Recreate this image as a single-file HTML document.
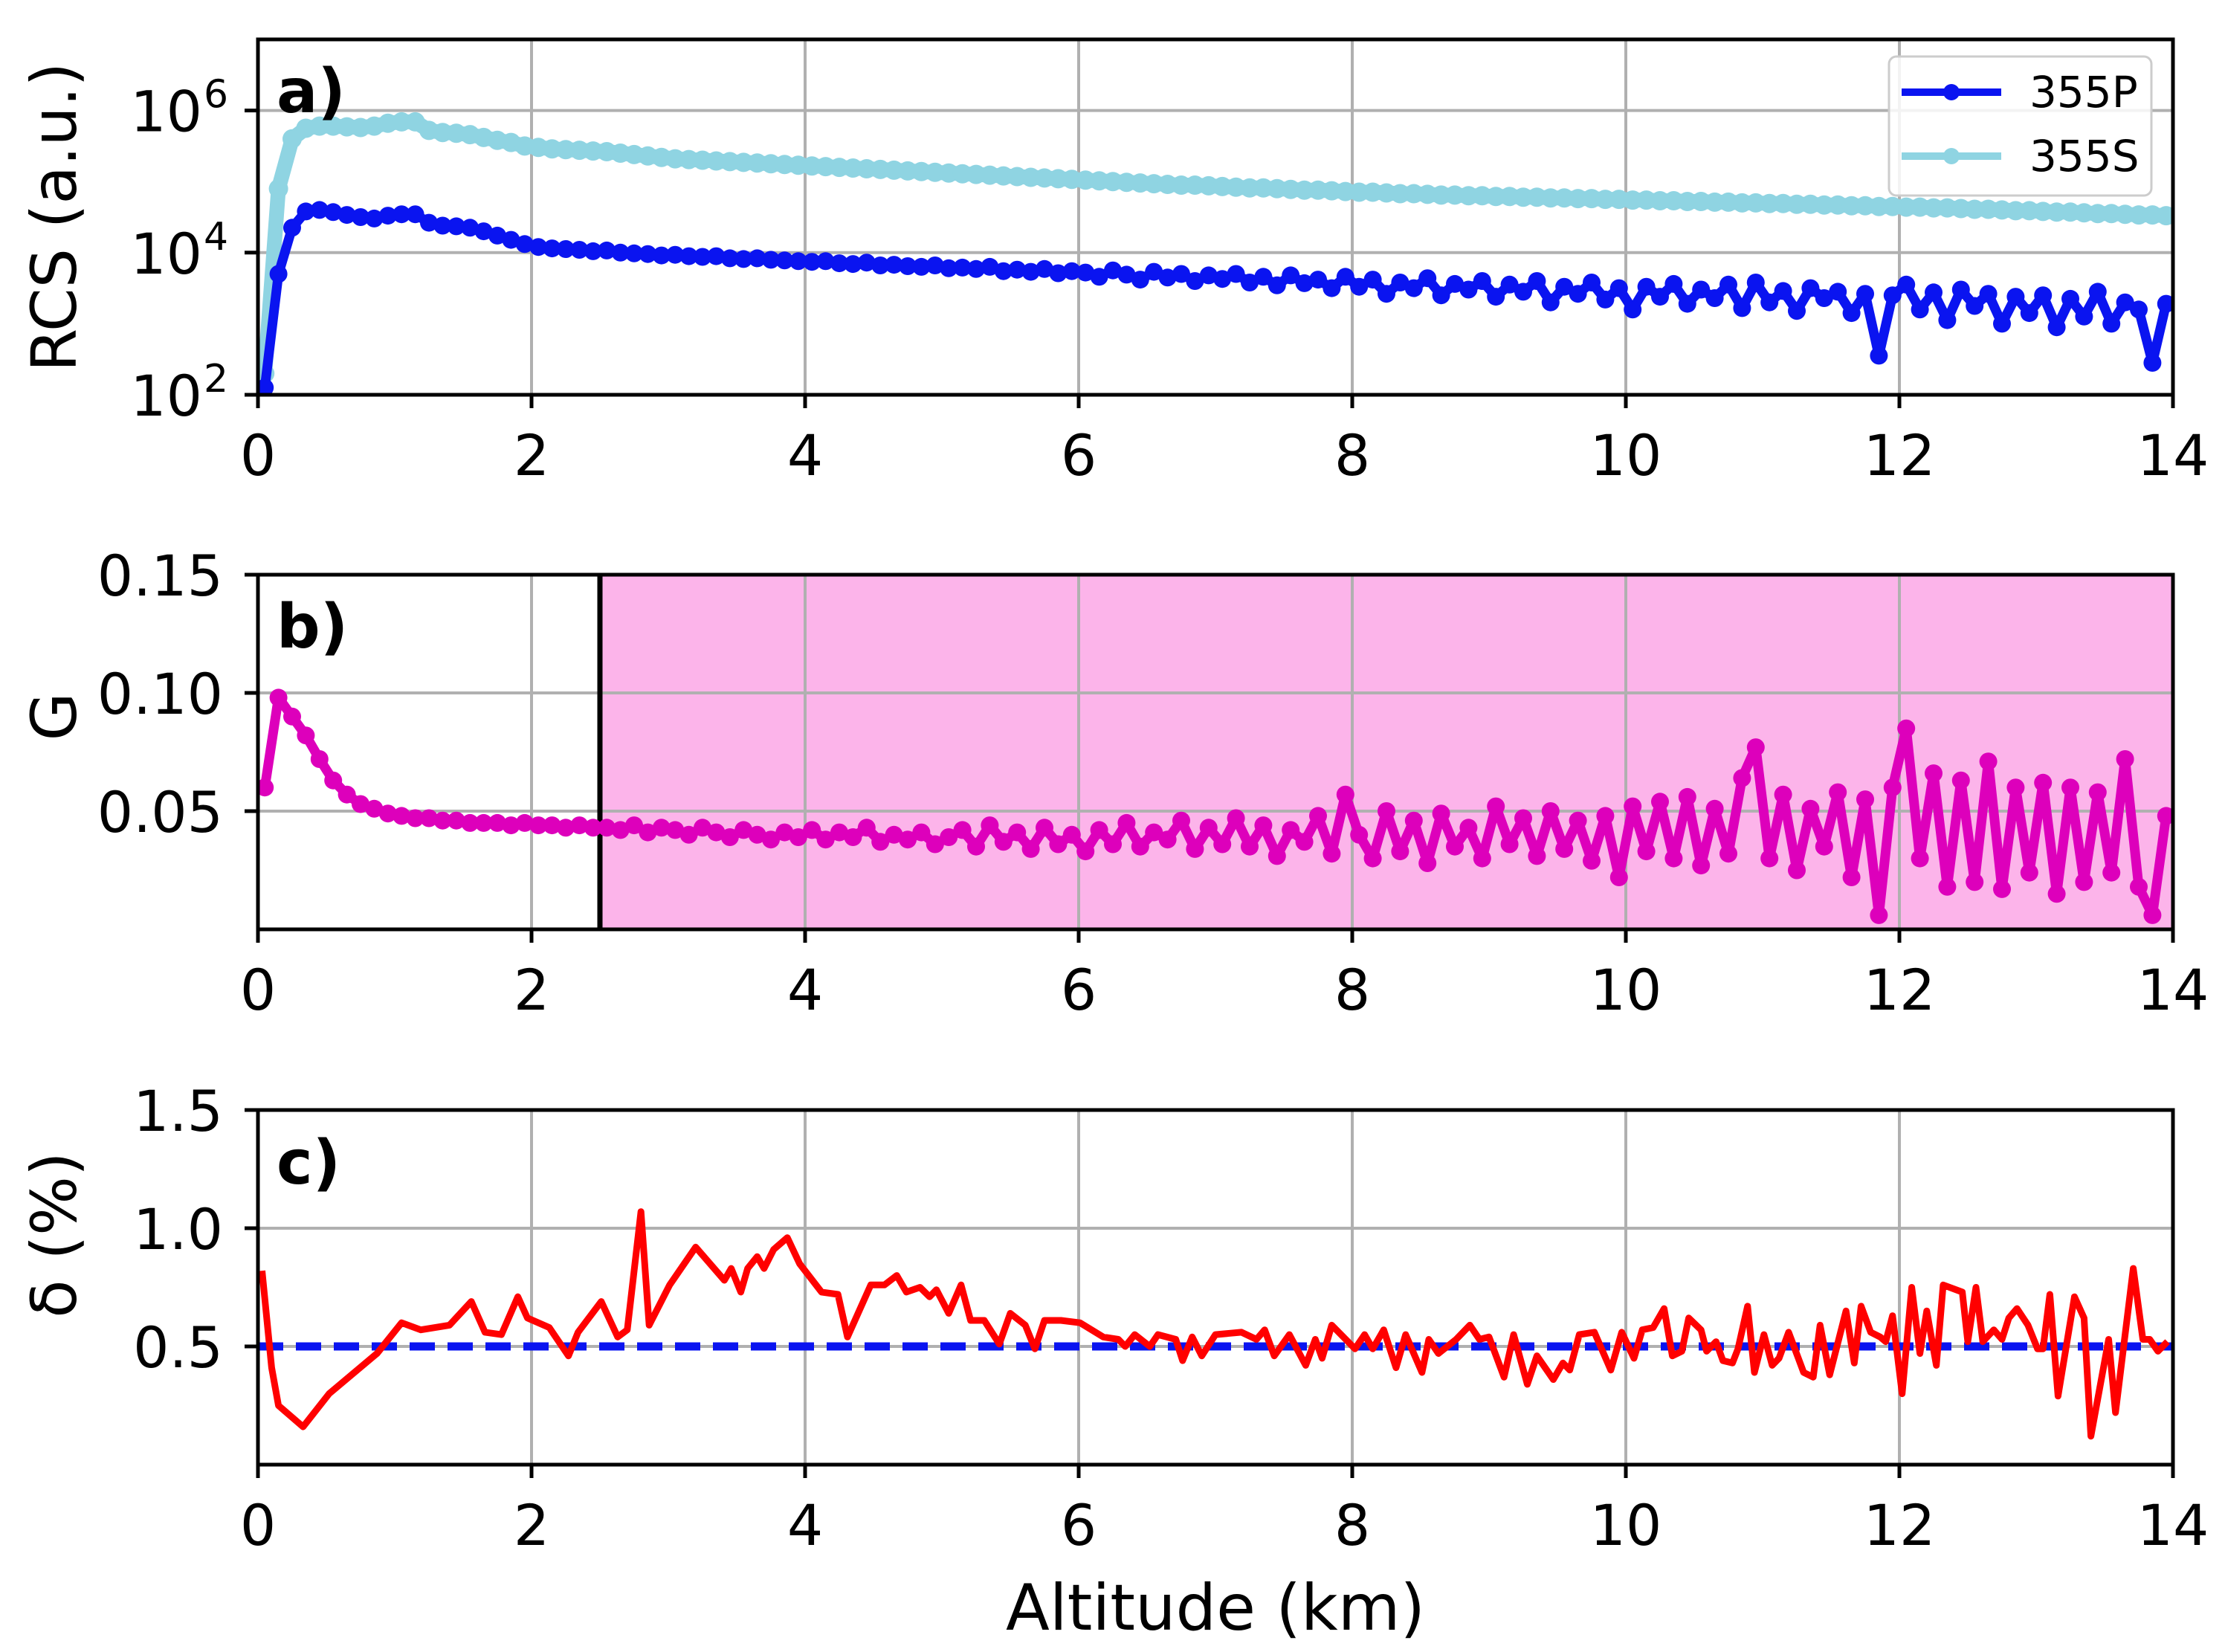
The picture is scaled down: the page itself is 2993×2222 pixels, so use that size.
<!DOCTYPE html>
<html><head><meta charset="utf-8"><style>
html,body{margin:0;padding:0;background:#fff}
svg{display:block;font-family:"DejaVu Sans","Liberation Sans",sans-serif}
</style></head><body>
<svg id="chart" width="2993" height="2222" viewBox="0 0 2993 2222">
<defs>
<clipPath id="clipA"><rect x="347" y="53" width="2576" height="478"/></clipPath>
<clipPath id="clipB"><rect x="347" y="773" width="2576" height="477"/></clipPath>
<clipPath id="clipC"><rect x="347" y="1493" width="2576" height="477"/></clipPath>
</defs>
<g id="layer"></g>
</svg>
<script>
// ---- data ----
const altStart = 0.05;
const altStep = 0.1;
const xTicks = [0,2,4,6,8,10,12,14];
const rcsTicksExp = [2,4,6];
const gTicks = [0.05,0.10,0.15];
const gTickLabels = ["0.05","0.10","0.15"];
const dTicks = [0.5,1.0,1.5];
const dTickLabels = ["0.5","1.0","1.5"];
const legendLabels = ["355P","355S"];
const shadeStart = 2.5;
const deltaRef = 0.5;
const log355S = [
2.3,4.9,5.6,5.75,5.78,5.78,5.77,5.76,5.78,5.82,
5.84,5.84,5.72,5.69,5.68,5.66,5.62,5.58,5.55,5.50,
5.48,5.46,5.45,5.44,5.43,5.42,5.40,5.38,5.36,5.34,
5.32,5.31,5.30,5.29,5.28,5.27,5.26,5.25,5.24,5.23,
5.22,5.21,5.20,5.19,5.18,5.17,5.16,5.15,5.14,5.13,
5.12,5.11,5.10,5.09,5.08,5.07,5.06,5.05,5.04,5.03,
5.02,5.01,5.00,4.99,4.98,4.97,4.96,4.95,4.95,4.94,
4.93,4.92,4.91,4.91,4.90,4.89,4.88,4.88,4.87,4.86,
4.85,4.85,4.84,4.83,4.83,4.82,4.81,4.81,4.80,4.80,
4.79,4.79,4.78,4.78,4.77,4.77,4.76,4.76,4.75,4.75,
4.74,4.74,4.73,4.73,4.72,4.72,4.71,4.71,4.70,4.70,
4.69,4.69,4.68,4.68,4.67,4.67,4.66,4.66,4.65,4.65,
4.64,4.64,4.63,4.63,4.62,4.61,4.61,4.60,4.59,4.59,
4.58,4.57,4.57,4.56,4.55,4.55,4.54,4.53,4.53,4.52];
const log355P = [
2.1,3.7,4.35,4.58,4.60,4.57,4.53,4.50,4.48,4.52,
4.54,4.54,4.42,4.38,4.37,4.35,4.30,4.24,4.18,4.12,
4.08,4.06,4.05,4.04,4.02,4.03,4.00,3.99,3.98,3.96,
3.97,3.95,3.94,3.95,3.92,3.91,3.92,3.90,3.89,3.88,
3.87,3.88,3.85,3.84,3.86,3.82,3.83,3.81,3.80,3.82,
3.78,3.79,3.77,3.80,3.74,3.76,3.73,3.77,3.71,3.74,
3.72,3.66,3.75,3.69,3.62,3.73,3.65,3.70,3.60,3.68,
3.63,3.70,3.58,3.66,3.54,3.68,3.57,3.62,3.50,3.66,
3.52,3.62,3.42,3.58,3.50,3.64,3.40,3.56,3.48,3.60,
3.38,3.55,3.45,3.60,3.30,3.52,3.42,3.58,3.34,3.50,
3.20,3.52,3.38,3.56,3.28,3.48,3.36,3.55,3.22,3.58,
3.30,3.46,3.18,3.50,3.36,3.45,3.15,3.42,2.55,3.40,
3.55,3.20,3.44,3.05,3.48,3.25,3.42,3.00,3.38,3.15,
3.40,2.95,3.35,3.10,3.45,3.00,3.30,3.20,2.45,3.28];
const gValues = [
0.060,0.098,0.090,0.082,0.072,0.063,0.057,0.053,0.051,0.049,
0.048,0.047,0.047,0.046,0.046,0.045,0.045,0.045,0.044,0.045,
0.044,0.044,0.043,0.044,0.043,0.043,0.042,0.044,0.041,0.043,
0.042,0.040,0.043,0.041,0.039,0.042,0.040,0.038,0.041,0.039,
0.042,0.038,0.041,0.039,0.043,0.037,0.040,0.038,0.041,0.036,
0.039,0.042,0.035,0.044,0.037,0.041,0.034,0.043,0.036,0.040,
0.033,0.042,0.036,0.045,0.035,0.041,0.038,0.046,0.034,0.043,
0.036,0.047,0.035,0.044,0.031,0.042,0.037,0.048,0.032,0.057,
0.040,0.030,0.050,0.033,0.046,0.028,0.049,0.035,0.043,0.030,
0.052,0.036,0.047,0.031,0.050,0.034,0.046,0.029,0.048,0.022,
0.052,0.033,0.054,0.030,0.056,0.027,0.051,0.032,0.064,0.077,
0.030,0.057,0.025,0.051,0.035,0.058,0.022,0.055,0.006,0.060,
0.085,0.030,0.066,0.018,0.063,0.020,0.071,0.017,0.060,0.024,
0.062,0.015,0.060,0.020,0.058,0.024,0.072,0.018,0.006,0.048];
const dAlt = [0.03,0.1,0.15,0.33,0.52,0.87,1.05,1.19,1.4,1.56,1.66,1.78,1.9,1.97,2.13,2.27,2.34,2.51,2.63,2.7,2.8,2.86,3.01,3.2,3.41,3.46,3.53,3.58,3.65,3.7,3.77,3.87,3.96,4.12,4.24,4.31,4.48,4.58,4.67,4.74,4.84,4.91,4.96,5.05,5.14,5.21,5.31,5.42,5.5,5.61,5.68,5.75,5.87,6.01,6.18,6.29,6.34,6.41,6.52,6.58,6.71,6.76,6.83,6.9,7.0,7.19,7.3,7.36,7.43,7.54,7.66,7.73,7.78,7.85,8.02,8.09,8.15,8.23,8.32,8.39,8.51,8.56,8.63,8.76,8.86,8.93,9.0,9.11,9.18,9.28,9.35,9.47,9.54,9.59,9.66,9.77,9.89,9.97,10.06,10.12,10.2,10.28,10.34,10.41,10.46,10.55,10.59,10.66,10.71,10.78,10.82,10.89,10.94,11.01,11.07,11.12,11.19,11.3,11.37,11.42,11.49,11.61,11.67,11.72,11.79,11.86,11.9,11.95,12.02,12.09,12.15,12.2,12.27,12.32,12.46,12.5,12.56,12.61,12.69,12.75,12.8,12.86,12.94,13.01,13.05,13.1,13.16,13.28,13.35,13.4,13.53,13.58,13.71,13.78,13.83,13.89,13.96];
const dValues = [0.82,0.41,0.25,0.16,0.30,0.47,0.60,0.57,0.59,0.69,0.56,0.55,0.71,0.62,0.58,0.46,0.56,0.69,0.54,0.57,1.07,0.59,0.76,0.92,0.78,0.83,0.73,0.83,0.88,0.83,0.91,0.96,0.85,0.73,0.72,0.54,0.76,0.76,0.80,0.73,0.75,0.71,0.74,0.64,0.76,0.61,0.61,0.51,0.64,0.59,0.49,0.61,0.61,0.60,0.54,0.53,0.50,0.55,0.50,0.55,0.53,0.44,0.54,0.46,0.55,0.56,0.53,0.57,0.46,0.55,0.42,0.53,0.45,0.59,0.49,0.55,0.49,0.57,0.41,0.55,0.39,0.53,0.47,0.53,0.59,0.53,0.54,0.37,0.55,0.34,0.46,0.36,0.43,0.40,0.55,0.56,0.40,0.56,0.45,0.57,0.58,0.66,0.46,0.48,0.62,0.57,0.48,0.52,0.44,0.43,0.49,0.67,0.39,0.55,0.42,0.45,0.56,0.39,0.37,0.59,0.38,0.65,0.43,0.67,0.56,0.54,0.52,0.63,0.30,0.75,0.47,0.65,0.42,0.76,0.73,0.52,0.75,0.52,0.57,0.53,0.62,0.66,0.59,0.49,0.49,0.72,0.29,0.71,0.62,0.12,0.53,0.22,0.83,0.53,0.53,0.48,0.52];

// ---- layout ----
const L=347,R=2923;
const PA={t:53,b:531}, PB={t:773,b:1250}, PC={t:1493,b:1970};
const FS=76;
const NS="http://www.w3.org/2000/svg";
const layer=document.getElementById('layer');
function xs(v){return L+(v-0)/(14-0)*(R-L);}
function yA(lg){return PA.b-(lg-2)/(7-2)*(PA.b-PA.t);}
function yB(v){return PB.b-(v-0)/(0.15-0)*(PB.b-PB.t);}
function yC(v){return PC.b-(v-0)/(1.5-0)*(PC.b-PC.t);}
function mk(tag,attrs,parent){const e=document.createElementNS(NS,tag);for(const k in attrs)e.setAttribute(k,attrs[k]);(parent||layer).appendChild(e);return e;}
function txt(str,attrs,parent){const e=mk('text',attrs,parent);e.textContent=str;return e;}
function altAt(i){return altStart+i*altStep;}

function drawPanel(name){
  const g=mk('g',{});
  
  
  return g;
}
function xGridAndTicks(P,g){
  xTicks.forEach(t=>{
    const gl=mk('line',{x1:xs(t),x2:xs(t),y1:P.t,y2:P.b,stroke:'#b0b0b0','stroke-width':4},g);
    
    
  });
}
function xTickLabels(P,g){
  xTicks.forEach(t=>{
    mk('line',{x1:xs(t),x2:xs(t),y1:P.b,y2:P.b+18,stroke:'#000','stroke-width':5},g);
    const tl=txt(String(t),{x:xs(t),y:P.b+108,'font-size':FS,'text-anchor':'middle',fill:'#000'},g);
    
    
  });
}
function frame(P,g){
  const f=mk('rect',{x:L,y:P.t,width:R-L,height:P.b-P.t,fill:'none',stroke:'#000','stroke-width':5},g);
  
  
}
function markersLine(pts,color,clip,g,r,lw,name){
  const s=mk('g',{'clip-path':'url(#'+clip+')'},g);
  
  
  mk('polyline',{points:pts.map(p=>p[0].toFixed(1)+','+p[1].toFixed(1)).join(' '),fill:'none',stroke:color,'stroke-width':lw,'stroke-linejoin':'round'},s);
  pts.forEach(p=>{
    const c=mk('circle',{cx:p[0].toFixed(1),cy:p[1].toFixed(1),r:r,fill:color},s);
    
    
  });
}

// ---- Panel a ----
const gA=drawPanel('panel-a-rcs');
xGridAndTicks(PA,gA);
rcsTicksExp.forEach(e=>{
  const gl=mk('line',{x1:L,x2:R,y1:yA(e),y2:yA(e),stroke:'#b0b0b0','stroke-width':4},gA);
  
  
  mk('line',{x1:L-18,x2:L,y1:yA(e),y2:yA(e),stroke:'#000','stroke-width':5},gA);
  const t=mk('text',{x:272,y:yA(e)+28,'font-size':FS,'text-anchor':'end',fill:'#000'},gA);
  
  
  t.textContent='10';
  const sup=mk('tspan',{x:274,y:yA(e)-4,'font-size':52,'text-anchor':'start'},t);
  sup.textContent=String(e);
});
markersLine(log355S.map((v,i)=>[xs(altAt(i)),yA(v)]),'#8fd4e2','clipA',gA,13,20,'series-355S');
markersLine(log355P.map((v,i)=>[xs(altAt(i)),yA(v)]),'#0a14f0','clipA',gA,12,13,'series-355P');
frame(PA,gA);
xTickLabels(PA,gA);
const la=txt('a)',{x:372,y:151,'font-size':82,'font-weight':'bold',fill:'#000'},gA);


const ya=txt('RCS (a.u.)',{x:0,y:0,'font-size':84,'text-anchor':'middle',transform:'translate(102,292) rotate(-90)',fill:'#000'},gA);


// legend
const lg=mk('g',{},gA);


mk('rect',{x:2541,y:76,width:353,height:187,rx:10,fill:'#fff','fill-opacity':0.85,stroke:'#cccccc','stroke-width':3},lg);
const legColors=['#0a14f0','#8fd4e2'];
legendLabels.forEach((lab,i)=>{
  const y=124+i*86;
  const le=mk('g',{},lg);
  
  
  mk('line',{x1:2558,x2:2692,y1:y,y2:y,stroke:legColors[i],'stroke-width':10},le);
  mk('circle',{cx:2625,cy:y,r:11,fill:legColors[i]},le);
  txt(lab,{x:2730,y:y+20,'font-size':58,fill:'#000'},le);
});

// ---- Panel b ----
const gB=drawPanel('panel-b-g');
const sh=mk('rect',{x:xs(shadeStart),y:PB.t,width:R-xs(shadeStart),height:PB.b-PB.t,fill:'#fcb4ea'},gB);


xGridAndTicks(PB,gB);
gTicks.forEach((v,i)=>{
  const gl=mk('line',{x1:L,x2:R,y1:yB(v),y2:yB(v),stroke:'#b0b0b0','stroke-width':4},gB);
  
  
  mk('line',{x1:L-18,x2:L,y1:yB(v),y2:yB(v),stroke:'#000','stroke-width':5},gB);
  const t=txt(gTickLabels[i],{x:300,y:yB(v)+28,'font-size':FS,'text-anchor':'end',fill:'#000'},gB);
  
  
});
const vl=mk('line',{x1:xs(shadeStart),x2:xs(shadeStart),y1:PB.t,y2:PB.b,stroke:'#000','stroke-width':7},gB);


markersLine(gValues.map((v,i)=>[xs(altAt(i)),yB(v)]),'#dd00bb','clipB',gB,12,13,'series-G');
frame(PB,gB);
xTickLabels(PB,gB);
const lb=txt('b)',{x:372,y:871,'font-size':82,'font-weight':'bold',fill:'#000'},gB);


const yb=txt('G',{x:0,y:0,'font-size':84,'text-anchor':'middle',transform:'translate(102,964) rotate(-90)',fill:'#000'},gB);



// ---- Panel c ----
const gC=drawPanel('panel-c-delta');
xGridAndTicks(PC,gC);
dTicks.forEach((v,i)=>{
  const gl=mk('line',{x1:L,x2:R,y1:yC(v),y2:yC(v),stroke:'#b0b0b0','stroke-width':4},gC);
  
  
  mk('line',{x1:L-18,x2:L,y1:yC(v),y2:yC(v),stroke:'#000','stroke-width':5},gC);
  const t=txt(dTickLabels[i],{x:300,y:yC(v)+28,'font-size':FS,'text-anchor':'end',fill:'#000'},gC);
  
  
});
const ref=mk('line',{x1:L,x2:R,y1:yC(deltaRef),y2:yC(deltaRef),stroke:'#0a14f0','stroke-width':11,'stroke-dasharray':'34 17'},gC);


const dl=mk('polyline',{points:dAlt.map((a,i)=>xs(a).toFixed(1)+','+yC(dValues[i]).toFixed(1)).join(' '),fill:'none',stroke:'#ff0000','stroke-width':9,'stroke-linejoin':'round','clip-path':'url(#clipC)'},gC);


frame(PC,gC);
xTickLabels(PC,gC);
const lc=txt('c)',{x:372,y:1592,'font-size':82,'font-weight':'bold',fill:'#000'},gC);


const yc=txt('δ (%)',{x:0,y:0,'font-size':84,'text-anchor':'middle',transform:'translate(102,1661) rotate(-90)',fill:'#000'},gC);


const xt=txt('Altitude (km)',{x:1635,y:2192,'font-size':86,'text-anchor':'middle',fill:'#000'});


</script>
</body></html>
